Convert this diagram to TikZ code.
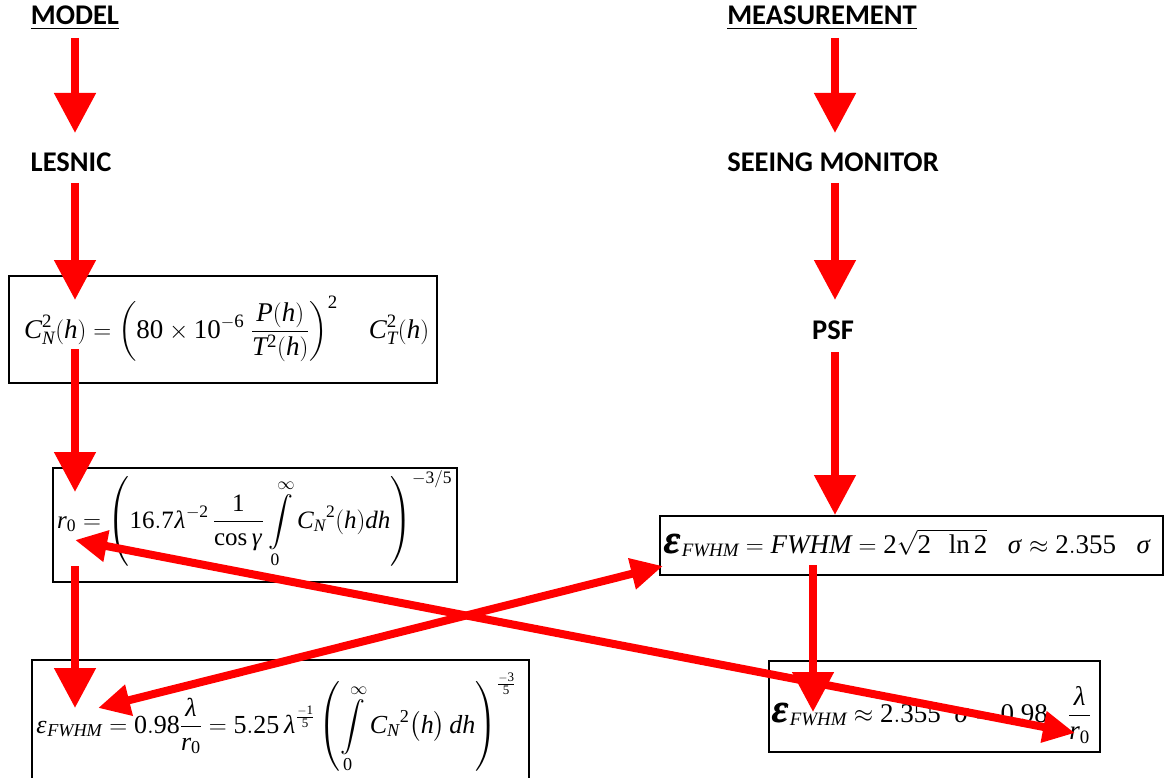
\documentclass[tikz,border=0pt]{standalone}
\usepackage{amsmath}
\usepackage{graphicx}
\usepackage{mathspec}
\setmainfont{Liberation Serif}
\setmathsfont(Digits,Latin,Greek){Liberation Serif}
\setmathrm{Liberation Serif}
\newfontfamily\lblfont{Carlito}
\usetikzlibrary{arrows.meta}
\newcommand\bigeps{\text{\scalebox{1.45}{$\pmb{\epsilon}$}}}
\begin{document}
\begin{tikzpicture}[x=1pt,y=-1pt,
  lbl/.style={font=\lblfont\bfseries\fontsize{28.5}{32}\selectfont, inner sep=0},
  box/.style={draw, line width=1.2pt, inner sep=0},
  eq/.style={inner sep=0, anchor=base west, font=\fontsize{26}{30}\selectfont},
  flow/.style={draw=red, line width=8pt, -{Triangle[width=40pt,length=40pt]}},
  cross/.style={draw=red, line width=8pt, {Triangle[width=30pt,length=32pt]}-{Triangle[width=30pt,length=32pt]}}]
\useasboundingbox (0,0) rectangle (1170,778);
% labels
\node[lbl] (model) at (75,18) {\underline{MODEL}};
\node[lbl] (lesnic) at (71,162) {LESNIC};
\node[lbl] (meas) at (822,18) {\underline{MEASUREMENT}};
\node[lbl] (seeing) at (833,162) {SEEING MONITOR};
\node[lbl] (psf) at (833,330) {PSF};
% boxes
\node[box, minimum width=428, minimum height=107] (b1) at (223,329.5) {};
\node[box, minimum width=404, minimum height=114] (b2) at (255,525) {};
\node[box, minimum width=497, minimum height=140] (b3) at (280.5,730) {};
\node[box, minimum width=503, minimum height=59] (b4) at (911.5,545.5) {};
\node[box, minimum width=331, minimum height=91] (b5) at (934.5,706.5) {};
% equations
\node[eq, font=\fontsize{27}{30}\selectfont] (eq1) at (24,338) {$\displaystyle C_N^2(h) = \left(80\times10^{-6}\ \frac{P(h)}{T^2(h)}\right)^{2}\quad C_T^2(h)$};
\node[eq, font=\fontsize{25}{30}\selectfont] (eq2) at (57,528) {$\displaystyle r_0 = \left(16.7\lambda^{-2}\,\frac{1}{\cos\gamma}\int\limits_0^\infty C_N{}^2(h)dh\right)^{-3/5}$};
\node[eq] (eq3) at (36,733) {$\displaystyle \epsilon_{FWHM} = 0.98\frac{\lambda}{r_0} = 5.25\,\lambda^{\frac{-1}{5}}\left(\int\limits_0^\infty C_N{}^2\bigl(h\bigr)\,dh\right)^{\frac{-3}{5}}$};
\node[eq, font=\fontsize{27}{30}\selectfont] (eq4) at (665,553) {$\bigeps_{FWHM} = FWHM = 2\sqrt{2\ \ \ln 2}\ \ \ \sigma \approx 2.355\ \ \ \sigma$};
\node[eq, font=\fontsize{27}{30}\selectfont] (eq5) at (773,722) {$\displaystyle \bigeps_{FWHM}\approx 2.355\ \ \sigma = 0.98\ \ \ \frac{\lambda}{r_0}$};
% arrow end points
\coordinate (m1) at (75,38);   \coordinate (m2) at (75,133);
\coordinate (l1) at (75,183);  \coordinate (l2) at (75,300);
\coordinate (c1) at (75,349);  \coordinate (c2) at (75,492);
\coordinate (r1) at (75,566);  \coordinate (r2) at (75,708);
\coordinate (s1) at (835,38);  \coordinate (s2) at (835,133);
\coordinate (p1) at (835,183); \coordinate (p2) at (835,300);
\coordinate (f1) at (835,352); \coordinate (f2) at (835,515);
\coordinate (e1) at (813,565); \coordinate (e2) at (813,712);
\coordinate (x1) at (75,540);  \coordinate (x2) at (1075,733);
\coordinate (y1) at (98,708);  \coordinate (y2) at (663,566);
% arrows
\draw[flow] (m1) -- (m2);
\draw[flow] (l1) -- (l2);
\draw[flow] (c1) -- (c2);
\draw[flow] (r1) -- (r2);
\draw[flow] (s1) -- (s2);
\draw[flow] (p1) -- (p2);
\draw[flow] (f1) -- (f2);
\draw[flow] (e1) -- (e2);
\draw[cross] (x1) -- (x2);
\draw[cross] (y1) -- (y2);
\end{tikzpicture}
\end{document}
